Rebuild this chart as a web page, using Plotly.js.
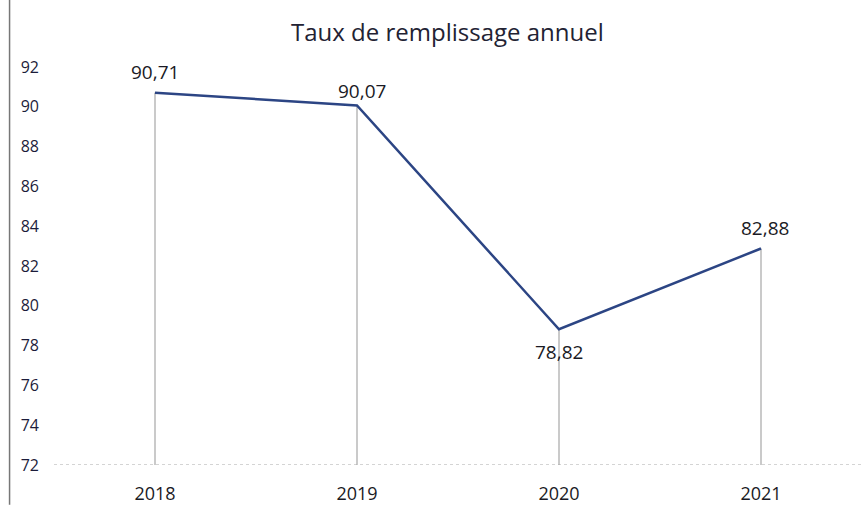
<!DOCTYPE html>
<html>
<head>
<meta charset="utf-8">
<script src="https://cdn.plot.ly/plotly-3.0.1.min.js"></script>
<style>
  html, body { margin: 0; padding: 0; background: #fff; }
  #graph { width: 862px; height: 506px; }
</style>
</head>
<body>
<div id="graph"></div>
<script>
'use strict';

/* Taux de remplissage annuel */

let annees = ['2018', '2019', '2020', '2021'];
let taux = [90.71, 90.07, 78.82, 82.88];
let decalageY = [21, 14, -23, 20];
let decalageX = [0, 5, 0, 4];
let ticksY = [72, 74, 76, 78, 80, 82, 84, 86, 88, 90, 92];

let yMin = ticksY[0];
let yMax = ticksY[ticksY.length - 1];

// lignes verticales jusqu'a l'axe (barres d'erreur vers le bas)
let descente = taux.map(v => v - yMin);

let trace = {
    type: 'scatter',
    mode: 'lines',
    x: annees,
    y: taux,
    line: { color: '#2c4584', width: 2.5 },
    error_y: {
        type: 'data',
        symmetric: false,
        array: taux.map(() => 0),
        arrayminus: descente,
        color: '#959595',
        thickness: 1,
        width: 0
    },
    hoverinfo: 'x+y',
    cliponaxis: false
};

// etiquettes de valeurs (x = indice de la categorie)
let etiquettes = [];
for (let i = 0; i < taux.length; i++) {
    etiquettes.push({
        x: i,
        y: taux[i],
        xref: 'x',
        yref: 'y',
        text: taux[i].toFixed(2).replace('.', ','),
        showarrow: false,
        xshift: decalageX[i],
        yshift: decalageY[i],
        font: { family: 'Open Sans', size: 19, color: '#1a1a24' }
    });
}

let layout = {
    width: 862,
    height: 506,
    margin: { l: 54, r: 0, t: 67, b: 41 },
    paper_bgcolor: '#ffffff',
    plot_bgcolor: '#ffffff',
    showlegend: false,
    title: {
        text: 'Taux de remplissage annuel',
        x: 0.519,
        xref: 'container',
        xanchor: 'center',
        y: 0.935,
        yref: 'container',
        yanchor: 'middle',
        font: { family: 'Open Sans', size: 24, color: '#222233' }
    },
    xaxis: {
        type: 'category',
        range: [-0.5, 3.5],
        showgrid: false,
        zeroline: false,
        showline: false,
        ticks: '',
        tickfont: { family: 'Open Sans', size: 18, color: '#1a1a24' },
        ticklabelstandoff: 16
    },
    yaxis: {
        range: [yMin, yMax],
        tickvals: ticksY,
        ticktext: ticksY.map(String),
        showgrid: false,
        zeroline: false,
        showline: false,
        ticks: '',
        tickfont: { family: 'Open Sans', size: 16, color: '#1c1c3a' },
        ticklabelstandoff: 14
    },
    annotations: etiquettes,
    shapes: [
        {
            type: 'line', xref: 'paper', yref: 'y',
            x0: 0, x1: 1, y0: yMin, y1: yMin,
            line: { color: '#a8a8a8', width: 1, dash: 'dot' }
        },
        {
            // bord du scan a gauche
            type: 'line', xref: 'paper', yref: 'paper',
            x0: -0.055, x1: -0.055, y0: -0.1, y1: 1.17,
            line: { color: '#777777', width: 1.5 }
        }
    ]
};

let config = { displayModeBar: false, staticPlot: true };

Plotly.newPlot('graph', [trace], layout, config);
</script>
</body>
</html>
